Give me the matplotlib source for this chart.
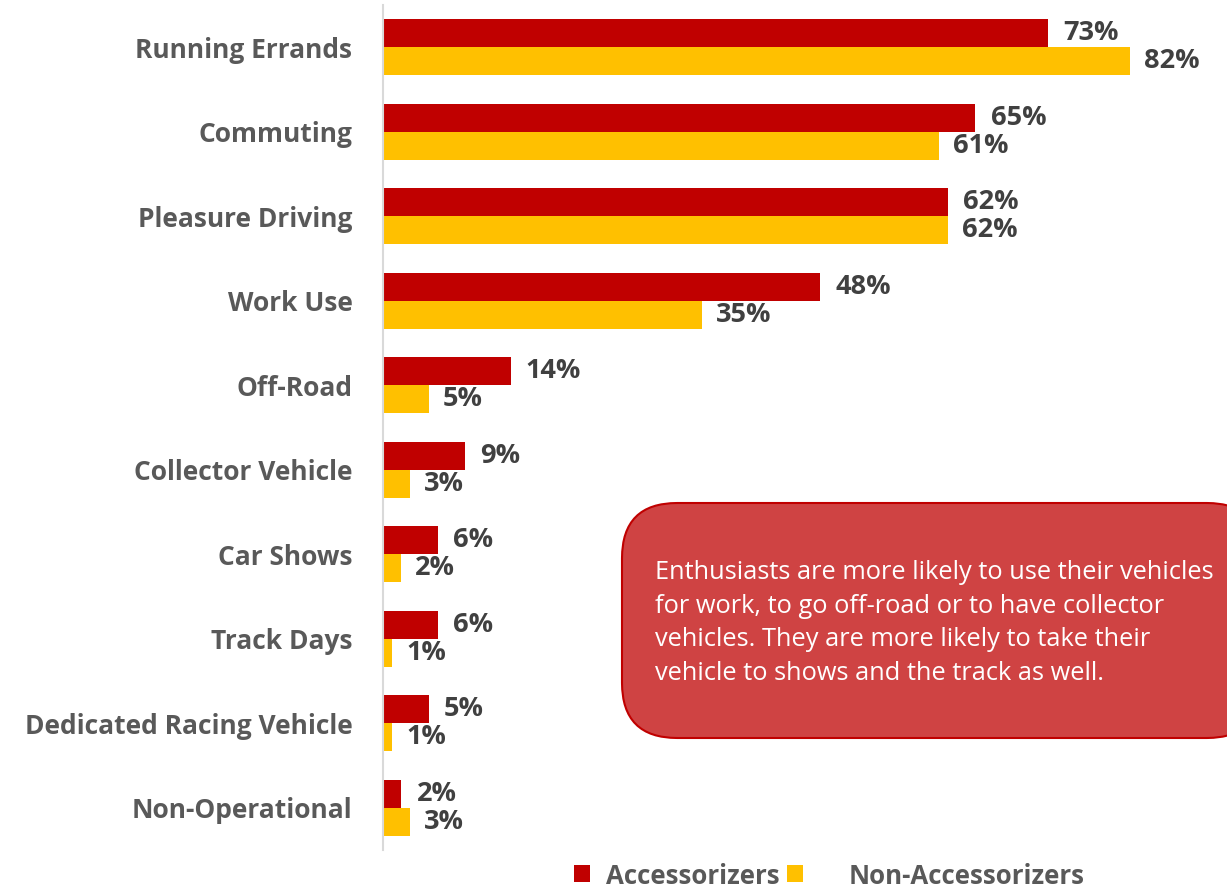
import matplotlib
matplotlib.use("Agg")
import matplotlib.pyplot as plt
import numpy as np
from matplotlib.patches import FancyBboxPatch, Rectangle

plt.rcParams['font.family'] = ['Open Sans', 'DejaVu Sans']

categories = ["Running Errands", "Commuting", "Pleasure Driving", "Work Use", "Off-Road",
              "Collector Vehicle", "Car Shows", "Track Days", "Dedicated Racing Vehicle",
              "Non-Operational"]
accessorizers = [73, 65, 62, 48, 14, 9, 6, 6, 5, 2]
non_accessorizers = [82, 61, 62, 35, 5, 3, 2, 1, 1, 3]
series_names = ["Accessorizers", "Non-Accessorizers"]

RED = "#C00000"
GOLD = "#FFC000"
LABEL_GRAY = "#595959"
VALUE_GRAY = "#404040"

W, H = 1227, 889
fig = plt.figure(figsize=(W / 100, H / 100), dpi=100)
ax = fig.add_axes([383 / W, 1 - 850 / H, 820 / W, 845 / H])

y = np.arange(len(categories))
bh = 0.33
ax.barh(y - bh / 2, accessorizers, height=bh, color=RED)
ax.barh(y + bh / 2, non_accessorizers, height=bh, color=GOLD)

for i in range(len(categories)):
    ax.annotate(f"{accessorizers[i]}%", (accessorizers[i], y[i] - bh / 2), xytext=(11, 0),
                textcoords="offset points", va="center", ha="left",
                fontsize=19.5, fontweight="bold", color=VALUE_GRAY)
    ax.annotate(f"{non_accessorizers[i]}%", (non_accessorizers[i], y[i] + bh / 2), xytext=(10, 0),
                textcoords="offset points", va="center", ha="left",
                fontsize=19.5, fontweight="bold", color=VALUE_GRAY)

ax.set_xlim(0, 90)
ax.set_ylim(len(categories) - 0.5, -0.5)
ax.set_yticks(y)
ax.set_yticklabels(categories, fontsize=19, fontweight="bold", color=LABEL_GRAY)
ax.tick_params(axis="y", length=0, pad=22)
ax.set_xticks([])
for s in ["top", "right", "bottom"]:
    ax.spines[s].set_visible(False)
ax.spines["left"].set_color("#D9D9D9")
ax.spines["left"].set_linewidth(1.5)

# callout box
box = FancyBboxPatch((622 / W, 1 - 738 / H), 640 / W, 235 / H,
                     boxstyle="round,pad=0,rounding_size=0.045",
                     transform=fig.transFigure, facecolor="#CF4343", edgecolor=RED,
                     linewidth=1.5, mutation_aspect=W / H)
fig.patches.append(box)
note = ("Enthusiasts are more likely to use their vehicles\n"
        "for work, to go off-road or to have collector\n"
        "vehicles. They are more likely to take their\n"
        "vehicle to shows and the track as well.")
fig.text(655 / W, 1 - 623 / H, note, color="white", fontsize=18.3, va="center", ha="left",
         linespacing=1.45)

# legend
for x0, tx, name, c in [(574, 606, series_names[0], RED), (787, 849, series_names[1], GOLD)]:
    fig.patches.append(Rectangle((x0 / W, 1 - 882 / H), 16 / W, 17 / H,
                                 transform=fig.transFigure, facecolor=c, edgecolor="none"))
    fig.text(tx / W, 1 - 876 / H, name, fontsize=18.6, fontweight="bold", color=LABEL_GRAY,
             va="center", ha="left")

fig.savefig("out.png", dpi=100)
